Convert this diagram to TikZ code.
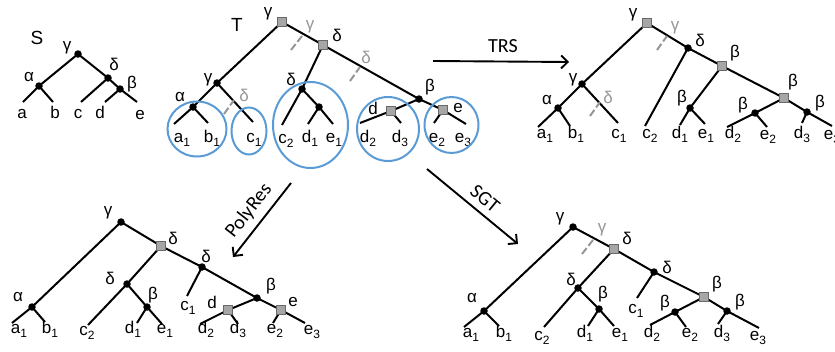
\documentclass[tikz,border=0pt]{standalone}
\usepackage{fontspec}
\setmainfont{Liberation Sans}
\newfontfamily\arrfont{Carlito}
\usetikzlibrary{arrows.meta}
\definecolor{cblue}{RGB}{91,155,213}
\definecolor{gtxt}{RGB}{150,150,150}
\definecolor{sqfill}{RGB}{166,166,166}
\definecolor{sqline}{RGB}{105,105,105}
\pgfdeclarelayer{bg}
\pgfsetlayers{bg,main}
\newcommand\lsub[1]{\raisebox{-0.25em}{\fontsize{12}{12}\selectfont #1}}
\begin{document}
\begin{tikzpicture}[x=1pt,y=-1pt,
 dot/.style={circle,fill=black,inner sep=0pt,minimum size=7.5pt},
 sq/.style={rectangle,fill=sqfill,draw=sqline,line width=0.6pt,inner sep=0pt,minimum size=9.5pt},
 edge/.style={line width=2pt,black},
 lbl/.style={inner sep=0pt,font=\fontsize{17}{17}\selectfont},
 leaf/.style={lbl,anchor=base},
 glbl/.style={lbl,text=gtxt},
 gdash/.style={draw=gtxt,line width=2pt,dash pattern=on 7.5pt off 3pt},
 circ/.style={draw=cblue,line width=2pt},
 arr/.style={line width=1.9pt,-{Straight Barb[length=6.5pt,width=13pt]}},
 alabel/.style={inner sep=0pt,font=\arrfont\fontsize{20}{20}\selectfont}]
\useasboundingbox (0,0) rectangle (835,351);

% ================= Tree S =================
\node[dot] (Sg) at (78,54) {};
\node[dot] (Sa) at (39,86) {};
\node[dot] (Sd) at (108,78) {};
\node[dot] (Sb) at (120,89) {};
\coordinate (Sla) at (23,102);
\coordinate (Slb) at (53,102);
\coordinate (Slc) at (81,102);
\coordinate (Sld) at (105,102);
\coordinate (Sle) at (137,102);
\begin{pgfonlayer}{bg}
\draw[edge] (Sg.center) -- (Sa.center) -- (Sla);
\draw[edge] (Sa.center) -- (Slb);
\draw[edge] (Sg.center) -- (Sd.center) -- (Slc);
\draw[edge] (Sd.center) -- (Sb.center) -- (Sle);
\draw[edge] (Sb.center) -- (Sld);
\end{pgfonlayer}
\node[lbl,font=\fontsize{19}{19}\selectfont] (Sname) at (37,38) {S};
\node[lbl] (Sgl) at (67,48) {γ};
\node[lbl] (Sal) at (29,77) {α};
\node[lbl] (Sdl) at (114,64) {δ};
\node[lbl] (Sbl) at (132,84) {β};
\node[leaf] (Sta) at (22,118) {a};
\node[leaf] (Stb) at (55,118) {b};
\node[leaf] (Stc) at (78,118) {c};
\node[leaf] (Std) at (100,118) {d};
\node[leaf] (Ste) at (140,119) {e};

% ================= Tree T =================
\node[sq] (Tr) at (282,22) {};
\node[dot] (Tg) at (217,83) {};
\node[dot] (Ta) at (193,107) {};
\node[sq] (Td) at (323,45) {};
\node[dot] (Tdd) at (302,89) {};
\node[dot] (Tde) at (319,107) {};
\node[dot] (Tb) at (419,99) {};
\node[sq] (Tds) at (391,111) {};
\node[sq] (Tes) at (443,110) {};
\coordinate (Ta1) at (174,124);
\coordinate (Tb1) at (208,123);
\coordinate (Tc1) at (253,122);
\coordinate (Tc2) at (282,125);
\coordinate (Td1) at (308,124);
\coordinate (Te1) at (333,124);
\coordinate (Td2) at (360,123);
\coordinate (Td3) at (401,123);
\coordinate (Te2) at (434,123);
\coordinate (Te3) at (466,124);
\begin{pgfonlayer}{bg}
\draw[edge] (Tr.center) -- (Tg.center) -- (Ta.center) -- (Ta1);
\draw[edge] (Ta.center) -- (Tb1);
\draw[edge] (Tg.center) -- (Tc1);
\draw[edge] (Tr.center) -- (Td.center) -- (Tdd.center) -- (Tc2);
\draw[edge] (Tdd.center) -- (Tde.center) -- (Td1);
\draw[edge] (Tde.center) -- (Te1);
\draw[edge] (Td.center) -- (Tb.center) -- (Tds.center) -- (Td2);
\draw[edge] (Tds.center) -- (Td3);
\draw[edge] (Tb.center) -- (Tes.center) -- (Te3);
\draw[edge] (Tes.center) -- (Te2);
\end{pgfonlayer}
\draw[gdash] (291,50) -- (302,36);
\draw[gdash] (350,81) -- (360,67);
\draw[gdash] (224,114) -- (234,100);
\node[lbl,font=\fontsize{19}{19}\selectfont] (Tname) at (237,25) {T};
\node[lbl] (Trl) at (268,14) {γ};
\node[glbl] (Trg) at (310,27) {γ};
\node[lbl] (Tdl) at (337,35) {δ};
\node[glbl] (Tdg) at (366,57) {δ};
\node[lbl] (Tddl) at (291,79) {δ};
\node[lbl] (Tbl) at (430,87) {β};
\node[lbl] (Tdsl) at (373,108) {d};
\node[lbl] (Tesl) at (458,108) {e};
\node[lbl] (Tgl) at (208,80) {γ};
\node[lbl] (Tal) at (180,97) {α};
\node[glbl] (Tgg) at (244,95) {δ};
\node[leaf] (Tta1) at (182,142) {a\lsub{1}};
\node[leaf] (Ttb1) at (212,142) {b\lsub{1}};
\node[leaf] (Ttc1) at (254,142) {c\lsub{1}};
\node[leaf] (Ttc2) at (286,143) {c\lsub{2}};
\node[leaf] (Ttd1) at (310,142) {d\lsub{1}};
\node[leaf] (Tte1) at (334,142) {e\lsub{1}};
\node[leaf] (Ttd2) at (368,142) {d\lsub{2}};
\node[leaf] (Ttd3) at (400,142) {d\lsub{3}};
\node[leaf] (Tte2) at (437,142) {e\lsub{2}};
\node[leaf] (Tte3) at (463,142) {e\lsub{3}};
\draw[circ] (197,129) ellipse [x radius=29.5, y radius=27.5];
\draw[circ] (249,131) ellipse [x radius=17.5, y radius=23.5];
\draw[circ] (310.5,125) ellipse [x radius=37.5, y radius=43];
\draw[circ] (388,129) ellipse [x radius=31, y radius=32];
\draw[circ] (451.5,125) ellipse [x radius=27, y radius=28];

% ================= Tree TRS =================
\node[sq] (Rr) at (647,23) {};
\node[dot] (Rg) at (582,84) {};
\node[dot] (Ra) at (558,108) {};
\node[dot] (Rd) at (688,48) {};
\node[sq] (Rb1) at (722,66) {};
\node[dot] (Rbd) at (690,108) {};
\node[sq] (Rb2) at (784,98) {};
\node[dot] (Rbl) at (755,113) {};
\node[dot] (Rbr) at (807,112) {};
\coordinate (Ra1) at (538,127);
\coordinate (Rb1l) at (570,126);
\coordinate (Rc1) at (618,123);
\coordinate (Rc2) at (645,126);
\coordinate (Rd1) at (680,125);
\coordinate (Re1) at (705,124);
\coordinate (Rd2) at (727,127);
\coordinate (Re2) at (767,127);
\coordinate (Rd3) at (802,123);
\coordinate (Re3) at (832,126);
\begin{pgfonlayer}{bg}
\draw[edge] (Rr.center) -- (Rg.center) -- (Ra.center) -- (Ra1);
\draw[edge] (Ra.center) -- (Rb1l);
\draw[edge] (Rg.center) -- (Rc1);
\draw[edge] (Rr.center) -- (Rd.center) -- (Rc2);
\draw[edge] (Rd.center) -- (Rb1.center) -- (Rbd.center) -- (Rd1);
\draw[edge] (Rbd.center) -- (Re1);
\draw[edge] (Rb1.center) -- (Rb2.center) -- (Rbl.center) -- (Rd2);
\draw[edge] (Rbl.center) -- (Re2);
\draw[edge] (Rb2.center) -- (Rbr.center) -- (Re3);
\draw[edge] (Rbr.center) -- (Rd3);
\end{pgfonlayer}
\draw[gdash] (657,50) -- (667,36);
\draw[gdash] (590,116) -- (600,102);
\node[lbl] (Rrl) at (633,15) {γ};
\node[glbl] (Rrg) at (675,28) {γ};
\node[lbl] (Rdl) at (700,40) {δ};
\node[lbl] (Rb1lb) at (735,53) {β};
\node[lbl] (Rgl) at (573,80) {γ};
\node[lbl] (Ral) at (547,100) {α};
\node[glbl] (Rgg) at (608,97) {δ};
\node[lbl] (Rbdl) at (682,98) {β};
\node[lbl] (Rbll) at (743,105) {β};
\node[lbl] (Rb2l) at (793,82) {β};
\node[lbl] (Rbrl) at (820,103) {β};
\node[leaf] (Rta1) at (545,138) {a\lsub{1}};
\node[leaf] (Rtb1) at (576,138) {b\lsub{1}};
\node[leaf] (Rtc1) at (619,138) {c\lsub{1}};
\node[leaf] (Rtc2) at (650,138) {c\lsub{2}};
\node[leaf] (Rtd1) at (680,138) {d\lsub{1}};
\node[leaf] (Rte1) at (706,138) {e\lsub{1}};
\node[leaf] (Rtd2) at (733,138) {d\lsub{2}};
\node[leaf] (Rte2) at (768,139) {e\lsub{2}};
\node[leaf] (Rtd3) at (802,138) {d\lsub{3}};
\node[leaf] (Rte3) at (832,139) {e\lsub{3}};

% ================= Tree PolyRes =================
\node[dot] (Lg) at (121,222) {};
\node[sq] (Ls) at (161,246) {};
\node[dot] (Ld) at (202,267) {};
\node[dot] (Ldl) at (127,284) {};
\node[dot] (Lb) at (147,307) {};
\node[dot] (La) at (32,307) {};
\node[dot] (Lbb) at (257,298) {};
\node[sq] (Lds) at (228,310) {};
\node[sq] (Les) at (281,310) {};
\coordinate (La1) at (12,323);
\coordinate (Lb1) at (45,322);
\coordinate (Lc2) at (88,325);
\coordinate (Ld1) at (137,323);
\coordinate (Le1) at (162,324);
\coordinate (Lc1) at (187,296);
\coordinate (Ld2) at (200,324);
\coordinate (Ld3) at (238,324);
\coordinate (Le2) at (273,323);
\coordinate (Le3) at (305,323);
\begin{pgfonlayer}{bg}
\draw[edge] (Lg.center) -- (La.center) -- (La1);
\draw[edge] (La.center) -- (Lb1);
\draw[edge] (Lg.center) -- (Ls.center) -- (Ldl.center) -- (Lc2);
\draw[edge] (Ldl.center) -- (Lb.center) -- (Le1);
\draw[edge] (Lb.center) -- (Ld1);
\draw[edge] (Ls.center) -- (Ld.center) -- (Lbb.center) -- (Lds.center) -- (Ld2);
\draw[edge] (Ld.center) -- (Lc1);
\draw[edge] (Lds.center) -- (Ld3);
\draw[edge] (Lbb.center) -- (Les.center) -- (Le3);
\draw[edge] (Les.center) -- (Le2);
\end{pgfonlayer}
\node[lbl] (Lgl) at (108,213) {γ};
\node[lbl] (Lsl) at (173,238) {δ};
\node[lbl] (Ldlb) at (206,256) {δ};
\node[lbl] (Ldll) at (110,278) {δ};
\node[lbl] (Lbl) at (153,295) {β};
\node[lbl] (Lal) at (18,297) {α};
\node[lbl] (Lbbl) at (271,286) {β};
\node[lbl] (Ldsl) at (212,302) {d};
\node[lbl] (Lesl) at (293,302) {e};
\node[leaf] (Ltc1) at (188,310) {c\lsub{1}};
\node[leaf] (Lta1) at (19,333) {a\lsub{1}};
\node[leaf] (Ltb1) at (50,333) {b\lsub{1}};
\node[leaf] (Ltc2) at (87,335) {c\lsub{2}};
\node[leaf] (Ltd1) at (133,333) {d\lsub{1}};
\node[leaf] (Lte1) at (165,333) {e\lsub{1}};
\node[leaf] (Ltd2) at (206,333) {d\lsub{2}};
\node[leaf] (Ltd3) at (238,333) {d\lsub{3}};
\node[leaf] (Lte2) at (275,333) {e\lsub{2}};
\node[leaf] (Lte3) at (312,334) {e\lsub{3}};

% ================= Tree SGT =================
\node[dot] (Bg) at (573,227) {};
\node[sq] (Bs) at (614,249) {};
\node[dot] (Bd) at (654,272) {};
\node[dot] (Bdl) at (578,288) {};
\node[dot] (Bb) at (599,309) {};
\node[dot] (Ba) at (484,311) {};
\node[sq] (Bbs) at (704,297) {};
\node[dot] (Bbl) at (675,312) {};
\node[dot] (Bbr) at (727,311) {};
\coordinate (Ba1) at (464,327);
\coordinate (Bb1) at (499,326);
\coordinate (Bc2) at (544,327);
\coordinate (Bd1) at (588,326);
\coordinate (Be1) at (614,326);
\coordinate (Bc1) at (637,298);
\coordinate (Bd2) at (650,325);
\coordinate (Be2) at (686,327);
\coordinate (Bd3) at (718,324);
\coordinate (Be3) at (759,328);
\begin{pgfonlayer}{bg}
\draw[edge] (Bg.center) -- (Ba.center) -- (Ba1);
\draw[edge] (Ba.center) -- (Bb1);
\draw[edge] (Bg.center) -- (Bs.center) -- (Bdl.center) -- (Bc2);
\draw[edge] (Bdl.center) -- (Bb.center) -- (Be1);
\draw[edge] (Bb.center) -- (Bd1);
\draw[edge] (Bs.center) -- (Bd.center) -- (Bbs.center) -- (Bbl.center) -- (Bd2);
\draw[edge] (Bd.center) -- (Bc1);
\draw[edge] (Bbl.center) -- (Be2);
\draw[edge] (Bbs.center) -- (Bbr.center) -- (Be3);
\draw[edge] (Bbr.center) -- (Bd3);
\end{pgfonlayer}
\draw[gdash] (582,254) -- (593,240);
\node[lbl] (Bgl) at (560,219) {γ};
\node[glbl] (Bgg) at (602,230) {γ};
\node[lbl] (Bsl) at (627,238) {δ};
\node[lbl] (Bdlb) at (667,267) {δ};
\node[lbl] (Bdll) at (571,279) {δ};
\node[lbl] (Bbl0) at (603,294) {β};
\node[lbl] (Bal) at (472,298) {α};
\node[lbl] (Bbsl) at (717,284) {β};
\node[lbl] (Bbll) at (665,303) {β};
\node[lbl] (Bbrl) at (740,302) {β};
\node[leaf] (Btc1) at (636,313) {c\lsub{1}};
\node[leaf] (Bta1) at (471,337) {a\lsub{1}};
\node[leaf] (Btb1) at (504,337) {b\lsub{1}};
\node[leaf] (Btc2) at (542,340) {c\lsub{2}};
\node[leaf] (Btd1) at (585,337) {d\lsub{1}};
\node[leaf] (Bte1) at (620,337) {e\lsub{1}};
\node[leaf] (Btd2) at (652,337) {d\lsub{2}};
\node[leaf] (Bte2) at (690,337) {e\lsub{2}};
\node[leaf] (Btd3) at (722,337) {d\lsub{3}};
\node[leaf] (Bte3) at (758,340) {e\lsub{3}};

% ================= Arrows =================
\coordinate (A1s) at (433,61);
\coordinate (A1e) at (569,62);
\coordinate (A2s) at (291,183);
\coordinate (A2e) at (233,257);
\coordinate (A3s) at (427,169);
\coordinate (A3e) at (518,244);
\draw[arr] (A1s) -- (A1e);
\draw[arr] (A2s) -- (A2e);
\draw[arr] (A3s) -- (A3e);
\node[alabel] (TRSl) at (503,46) {TRS};
\node[alabel,rotate=52] (PRl) at (249,211) {PolyRes};
\node[alabel,rotate=-39.5] (SGTl) at (485,199) {SGT};
\end{tikzpicture}
\end{document}
